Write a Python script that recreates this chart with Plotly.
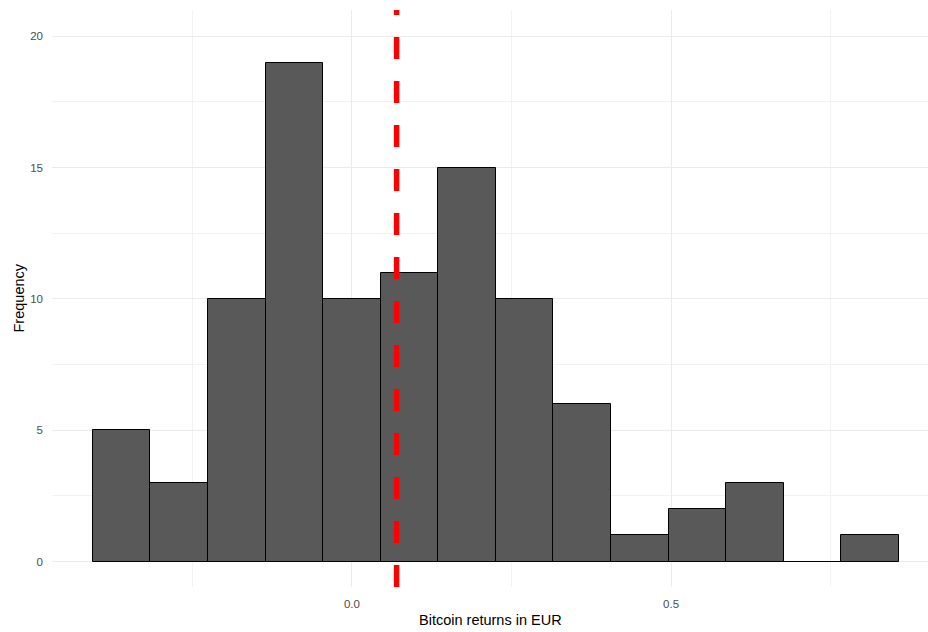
import plotly.graph_objects as go

# Histogram of Bitcoin returns (EUR)
bin_width = 0.0902
bin_centers = [round(k * bin_width, 4) for k in range(-4, 10)]
counts = [5, 3, 10, 19, 10, 11, 15, 10, 6, 1, 2, 3, 0, 1]
mean_return = 0.070

x_ticks = [0.0, 0.5]
x_tick_labels = ["0.0", "0.5"]
y_ticks = [0, 5, 10, 15, 20]
y_tick_labels = ["0", "5", "10", "15", "20"]

W, H = 928, 632
L, R, T, B = 52, 0, 10, 45
fig = go.Figure()
fig.add_trace(go.Bar(
    x=bin_centers, y=counts, width=bin_width,
    marker=dict(color="#595959", line=dict(color="black", width=1)),
    hoverinfo="x+y", showlegend=False,
))

fig.add_shape(type="line", xref="x", yref="paper",
              x0=mean_return, x1=mean_return, y0=0, y1=1,
              line=dict(color="#FF0000", width=5.5, dash="22px,22px"))

# axis titles as annotations (placed in paper pixels)
pw, ph = W - L - R, H - T - B
fig.add_annotation(text="Bitcoin returns in EUR", xref="paper", yref="paper",
                   x=0.5, y=-(620 - (H - B)) / ph, showarrow=False,
                   xanchor="center", yanchor="middle",
                   font=dict(size=14.5, color="black"))
fig.add_annotation(text="Frequency", xref="paper", yref="paper",
                   x=-(L - 18) / pw, y=0.5, showarrow=False, textangle=-90,
                   xanchor="center", yanchor="middle",
                   font=dict(size=14.5, color="black"))

grid = "#EBEBEB"
fig.update_layout(
    width=W, height=H,
    margin=dict(l=L, r=R, t=T, b=B, autoexpand=False),
    plot_bgcolor="white", paper_bgcolor="white",
    bargap=0,
    font=dict(family="Liberation Sans, Arial, sans-serif"),
    xaxis=dict(
        range=[-0.4698, 0.9024],
        tickvals=x_ticks, ticktext=x_tick_labels,
        tickfont=dict(size=11.5, color="#4D4D4D"),
        showgrid=True, gridcolor=grid, gridwidth=1.1,
        minor=dict(dtick=0.25, tick0=0.25, showgrid=True, gridcolor="#F2F2F2", gridwidth=0.6),
        zeroline=False, showline=False, ticks="",
        ticklabelstandoff=8, automargin=False,
    ),
    yaxis=dict(
        range=[-0.97, 21.0],
        tickvals=y_ticks, ticktext=y_tick_labels,
        tickfont=dict(size=11.5, color="#4D4D4D"),
        showgrid=True, gridcolor=grid, gridwidth=1.1,
        minor=dict(dtick=2.5, tick0=2.5, showgrid=True, gridcolor="#F2F2F2", gridwidth=0.6),
        zeroline=False, showline=False, ticks="",
        ticklabelstandoff=8, automargin=False,
    ),
)

fig.write_html("out.html", config={"displayModeBar": False},
               post_script="document.body.style.margin='0';document.body.style.padding='0';")
